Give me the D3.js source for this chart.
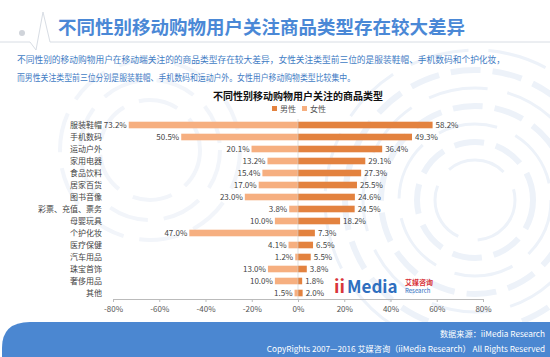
<!DOCTYPE html>
<html><head><meta charset="utf-8">
<script src="https://cdn.jsdelivr.net/npm/d3@7/dist/d3.min.js"></script>
<style>body{margin:0;background:#fff;}svg{display:block;font-family:"Noto Sans CJK SC","Noto Sans",sans-serif;}</style>
</head><body><svg id="c" width="550" height="357"></svg>
<script>
const categories = ["服装鞋帽","手机数码","运动户外","家用电器","食品饮料","居家百货","图书音像","彩票、充值、票务","母婴玩具","个护化妆","医疗保健","汽车用品","珠宝首饰","奢侈用品","其他"];
const female = [73.2,50.5,20.1,13.2,15.4,17.0,23.0,3.8,10.0,47.0,4.1,1.2,13.0,10.0,1.5];
const male = [58.2,49.3,36.4,29.1,27.3,25.5,24.6,24.5,18.2,7.3,6.5,5.5,3.8,1.8,2.0];
const ticks = [-80,-60,-40,-20,0,20,40,60,80];
const seriesNames = ["男性","女性"];

const svg = d3.select("#c");
const maleColor = "#e3823f", femaleColor = "#f6af80";

// background decoration
const deco = svg.append("g");
[40,58,76,94,112,130,150].forEach((r,i)=>{
  deco.append("circle").attr("cx",475).attr("cy",200).attr("r",r)
    .attr("fill","none").attr("stroke","#edf2f9").attr("stroke-width",i%2?6:3)
    .attr("stroke-dasharray",i%2?"30 12":"60 20");
});
[50,70,90].forEach((r,i)=>{
  deco.append("circle").attr("cx",150).attr("cy",150).attr("r",r)
    .attr("fill","none").attr("stroke","#f2f5fa").attr("stroke-width",4)
    .attr("stroke-dasharray","40 16");
});

// header line with heartbeat
svg.append("path").attr("d","M0,42 L30,42 L36,50 L43,12 L50,42 L550,42")
  .attr("fill","none").attr("stroke","#d8dde4").attr("stroke-width",1);
svg.append("circle").attr("cx",22).attr("cy",33).attr("r",3).attr("fill","#d0d4da");
svg.append("text").attr("x",58).attr("y",34).attr("font-size",18.5).attr("font-weight","bold")
  .attr("fill","#4a88d6").text("不同性别移动购物用户关注商品类型存在较大差异");

svg.append("text").attr("x",17).attr("y",63).attr("font-size",8.8).attr("fill","#3f7cc4")
  .attr("textLength",488).attr("lengthAdjust","spacingAndGlyphs")
  .text("不同性别的移动购物用户在移动端关注的的商品类型存在较大差异，女性关注类型前三位的是服装鞋帽、手机数码和个护化妆，");
svg.append("text").attr("x",17).attr("y",81).attr("font-size",8.8).attr("fill","#3f7cc4")
  .attr("textLength",338).attr("lengthAdjust","spacingAndGlyphs")
  .text("而男性关注类型前三位分别是服装鞋帽、手机数码和运动户外。女性用户移动购物类型比较集中。");

svg.append("text").attr("x",298).attr("y",100).attr("text-anchor","middle").attr("font-size",10)
  .attr("font-weight","bold").attr("fill","#111").text("不同性别移动购物用户关注的商品类型");

// legend
const leg = svg.append("g");
[[272,maleColor,seriesNames[0]],[302,femaleColor,seriesNames[1]]].forEach(([x,c,t])=>{
  leg.append("rect").attr("x",x).attr("y",106).attr("width",5).attr("height",5).attr("fill",c);
  leg.append("text").attr("x",x+8).attr("y",111.5).attr("font-size",8).attr("fill","#555").text(t);
});

const x = d3.scaleLinear().domain([-80,80]).range([113,483]);
const y = d3.scaleBand().domain(categories).range([119,299]).paddingInner(0.45).paddingOuter(0.225);

const g = svg.append("g");
g.selectAll(".f").data(categories).join("rect")
  .attr("x",(d,i)=>x(-female[i])).attr("y",d=>y(d)).attr("width",(d,i)=>x(0)-x(-female[i]))
  .attr("height",y.bandwidth()).attr("fill",femaleColor);
g.selectAll(".m").data(categories).join("rect")
  .attr("x",x(0)).attr("y",d=>y(d)).attr("width",(d,i)=>x(male[i])-x(0))
  .attr("height",y.bandwidth()).attr("fill",maleColor);

g.selectAll(".fl").data(categories).join("text")
  .attr("x",(d,i)=>x(-female[i])-2).attr("y",d=>y(d)+y.bandwidth()/2).attr("dy","0.35em")
  .attr("text-anchor","end").attr("font-size",8).attr("fill","#444")
  .text((d,i)=>female[i].toFixed(1)+"%");
g.selectAll(".ml").data(categories).join("text")
  .attr("x",(d,i)=>x(male[i])+3).attr("y",d=>y(d)+y.bandwidth()/2).attr("dy","0.35em")
  .attr("font-size",8).attr("fill","#444")
  .text((d,i)=>male[i].toFixed(1)+"%");
g.selectAll(".cl").data(categories).join("text")
  .attr("x",102).attr("y",d=>y(d)+y.bandwidth()/2).attr("dy","0.35em")
  .attr("text-anchor","end").attr("font-size",8).attr("fill","#444").text(d=>d);

// center line
g.append("line").attr("x1",x(0)).attr("x2",x(0)).attr("y1",119).attr("y2",299).attr("stroke","#ccc").attr("stroke-width",0.6);

// axis
const ax = svg.append("g").attr("transform","translate(0,299)")
  .call(d3.axisBottom(x).tickValues(ticks).tickSize(3).tickFormat(d=>d+"%"));
ax.select(".domain").attr("stroke","#bbb");
ax.selectAll(".tick line").attr("stroke","#bbb");
ax.selectAll(".tick text").attr("font-size",8).attr("fill","#555").attr("dy","0.9em")
  .attr("font-family","'Noto Sans CJK SC',sans-serif");

// logo
const logo = svg.append("g");
logo.append("text").attr("x",334).attr("y",293).attr("font-size",18).attr("font-weight","bold").attr("fill","#d9353b").text("ii");
logo.append("text").attr("x",347).attr("y",293).attr("font-size",17).attr("font-weight","bold").attr("fill","#2f6fbf").text("Media");
logo.append("text").attr("x",405).attr("y",285).attr("font-size",7).attr("font-weight","bold").attr("fill","#d9353b").text("艾媒咨询");
logo.append("text").attr("x",405).attr("y",293).attr("font-size",6).attr("fill","#2f6fbf").text("Research");

// footer
svg.append("path").attr("d","M2,357 L2,348 Q2,322 30,322 L550,322 L550,357 Z").attr("fill","#4b87d1");
svg.append("text").attr("x",545).attr("y",337).attr("text-anchor","end").attr("font-size",8.2).attr("fill","#fff")
  .text("数据来源：iiMedia Research");
svg.append("text").attr("x",545).attr("y",352).attr("text-anchor","end").attr("font-size",8.2).attr("fill","#fff")
  .text("CopyRights 2007—2016 艾媒咨询（iiMedia Research） All Rights Reserved");
</script></body></html>
